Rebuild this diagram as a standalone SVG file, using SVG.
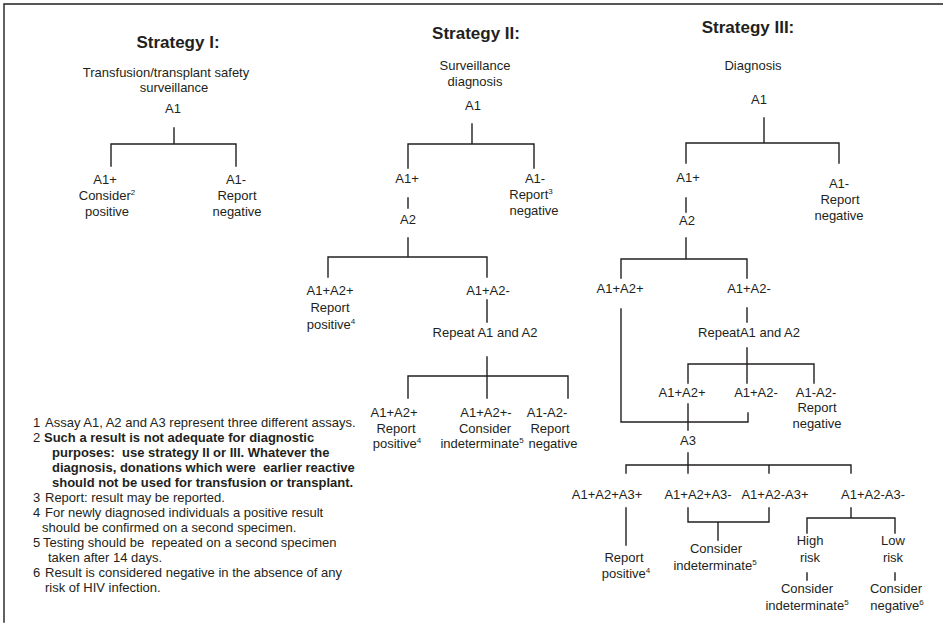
<svg xmlns="http://www.w3.org/2000/svg" width="943" height="626" viewBox="0 0 943 626">
<style>
text{font-family:"Liberation Sans",Arial,sans-serif;font-size:13px;fill:#231f20}
.t{font-weight:bold;font-size:17px;text-anchor:middle}
.c{text-anchor:middle}
.b{font-weight:bold}
.sup{font-size:8px}
.ln{stroke:#231f20;stroke-width:1.4;fill:none;stroke-linecap:square}
.fn{white-space:pre}
</style>
<rect x="0" y="0" width="943" height="626" fill="#fff"/>
<path class="ln" d="M4,622 V4 H943" stroke-width="1.6"/>

<g id="connectors" class="ln">
<!-- Strategy I -->
<path d="M174,128V144M111,166V144H236V166"/>
<!-- Strategy II -->
<path d="M472,124V144M408,168V144H534V168"/>
<path d="M408,198V208M408,238V257M328,277V257H487V277"/>
<path d="M487,300V322M487,357V376M408,398V376H568V398M487,376V398"/>
<!-- Strategy III -->
<path d="M764,118V143M686,163V143H839V163"/>
<path d="M686,198V212M686,238V259M621,278V259H747V278"/>
<path d="M621,309V422H748V413"/>
<path d="M747,308V322M747,348V383M688,383V364H814V383"/>
<path d="M688,404V430M688,453V473M626,473V465H851V473M769,465V473"/>
<path d="M626,508V545"/>
<path d="M688,508V522H769V508M718,522V540"/>
<path d="M851,508V518M807,533V518H895V533"/>
<path d="M807,573V580M895,573V580"/>
</g>

<g id="s1-title"><text class="t" x="178" y="48">Strategy I:</text></g>
<g id="s1-purpose"><text class="c" x="166" y="77">Transfusion/transplant safety</text><text class="c" x="174" y="92">surveillance</text></g>
<g id="s1-a1"><text class="c" x="173" y="113">A1</text></g>
<g id="s1-pos"><text class="c" x="105" y="184">A1+</text><text class="c" x="107" y="200">Consider<tspan class="sup" dy="-5">2</tspan></text><text class="c" x="107" y="216">positive</text></g>
<g id="s1-neg"><text class="c" x="236" y="184">A1-</text><text class="c" x="237" y="200">Report</text><text class="c" x="237" y="216">negative</text></g>

<g id="s2-title"><text class="t" x="476" y="39">Strategy II:</text></g>
<g id="s2-purpose"><text class="c" x="475" y="70">Surveillance</text><text class="c" x="475" y="86">diagnosis</text></g>
<g id="s2-a1"><text class="c" x="473" y="110">A1</text></g>
<g id="s2-a1pos"><text class="c" x="407" y="183">A1+</text></g>
<g id="s2-a1neg"><text class="c" x="535" y="183">A1-</text><text class="c" x="531" y="199">Report<tspan class="sup" dy="-5">3</tspan></text><text class="c" x="534" y="215">negative</text></g>
<g id="s2-a2"><text class="c" x="408" y="224">A2</text></g>
<g id="s2-pp"><text class="c" x="330" y="295">A1+A2+</text><text class="c" x="330" y="312">Report</text><text class="c" x="331" y="329">positive<tspan class="sup" dy="-5">4</tspan></text></g>
<g id="s2-pn"><text class="c" x="488" y="295">A1+A2-</text></g>
<g id="s2-repeat"><text class="c" x="485" y="337">Repeat A1 and A2</text></g>
<g id="s2-r-pp"><text class="c" x="394" y="417">A1+A2+</text><text class="c" x="396" y="433">Report</text><text class="c" x="397" y="448">positive<tspan class="sup" dy="-5">4</tspan></text></g>
<g id="s2-r-ind"><text class="c" x="486" y="417">A1+A2+-</text><text class="c" x="485" y="433">Consider</text><text class="c" x="482" y="448">indeterminate<tspan class="sup" dy="-5">5</tspan></text></g>
<g id="s2-r-nn"><text class="c" x="547" y="417">A1-A2-</text><text class="c" x="550" y="433">Report</text><text class="c" x="553" y="448">negative</text></g>

<g id="s3-title"><text class="t" x="748" y="33">Strategy III:</text></g>
<g id="s3-purpose"><text class="c" x="753" y="70">Diagnosis</text></g>
<g id="s3-a1"><text class="c" x="759" y="104">A1</text></g>
<g id="s3-a1pos"><text class="c" x="688" y="182">A1+</text></g>
<g id="s3-a1neg"><text class="c" x="839" y="188">A1-</text><text class="c" x="840" y="204">Report</text><text class="c" x="839" y="220">negative</text></g>
<g id="s3-a2"><text class="c" x="687" y="225">A2</text></g>
<g id="s3-pp"><text class="c" x="620" y="293">A1+A2+</text></g>
<g id="s3-pn"><text class="c" x="749" y="293">A1+A2-</text></g>
<g id="s3-repeat"><text class="c" x="749" y="337">RepeatA1 and A2</text></g>
<g id="s3-r-pp"><text class="c" x="682" y="397">A1+A2+</text></g>
<g id="s3-r-pn"><text class="c" x="756" y="397">A1+A2-</text></g>
<g id="s3-r-nn"><text class="c" x="816" y="397">A1-A2-</text><text class="c" x="817" y="412">Report</text><text class="c" x="817" y="428">negative</text></g>
<g id="s3-a3"><text class="c" x="688" y="445">A3</text></g>
<g id="s3-ppp"><text class="c" x="607" y="499">A1+A2+A3+</text></g>
<g id="s3-ppn"><text class="c" x="698" y="499">A1+A2+A3-</text></g>
<g id="s3-pnp"><text class="c" x="775" y="499">A1+A2-A3+</text></g>
<g id="s3-pnn"><text class="c" x="873" y="499">A1+A2-A3-</text></g>
<g id="s3-rep-pos"><text class="c" x="624" y="562">Report</text><text class="c" x="626" y="578">positive<tspan class="sup" dy="-5">4</tspan></text></g>
<g id="s3-ind"><text class="c" x="716" y="553">Consider</text><text class="c" x="715" y="570">indeterminate<tspan class="sup" dy="-5">5</tspan></text></g>
<g id="s3-high"><text class="c" x="810" y="545">High</text><text class="c" x="810" y="562">risk</text></g>
<g id="s3-low"><text class="c" x="893" y="545">Low</text><text class="c" x="893" y="562">risk</text></g>
<g id="s3-high-ind"><text class="c" x="807" y="593">Consider</text><text class="c" x="807" y="610">indeterminate<tspan class="sup" dy="-5">5</tspan></text></g>
<g id="s3-low-neg"><text class="c" x="896" y="593">Consider</text><text class="c" x="897" y="610">negative<tspan class="sup" dy="-5">6</tspan></text></g>

<g id="footnotes" class="fn">
<text x="33" y="427">1</text><text x="45" y="427">Assay A1, A2 and A3 represent three different assays.</text>
<text x="33" y="442">2</text><text class="b" x="44" y="442">Such a result is not adequate for diagnostic</text>
<text class="b" x="52" y="457" xml:space="preserve">purposes:  use strategy II or III. Whatever the</text>
<text class="b" x="52" y="472" xml:space="preserve">diagnosis, donations which were  earlier reactive</text>
<text class="b" x="52" y="487">should not be used for transfusion or transplant.</text>
<text x="33" y="502">3</text><text x="45" y="502">Report: result may be reported.</text>
<text x="33" y="517">4</text><text x="45" y="517">For newly diagnosed individuals a positive result</text>
<text x="42" y="532">should be confirmed on a second specimen.</text>
<text x="33" y="547">5</text><text x="43" y="547" xml:space="preserve">Testing should be  repeated on a second specimen</text>
<text x="48" y="562">taken after 14 days.</text>
<text x="33" y="577">6</text><text x="45" y="577">Result is considered negative in the absence of any</text>
<text x="45" y="592">risk of HIV infection.</text>
</g>
</svg>
